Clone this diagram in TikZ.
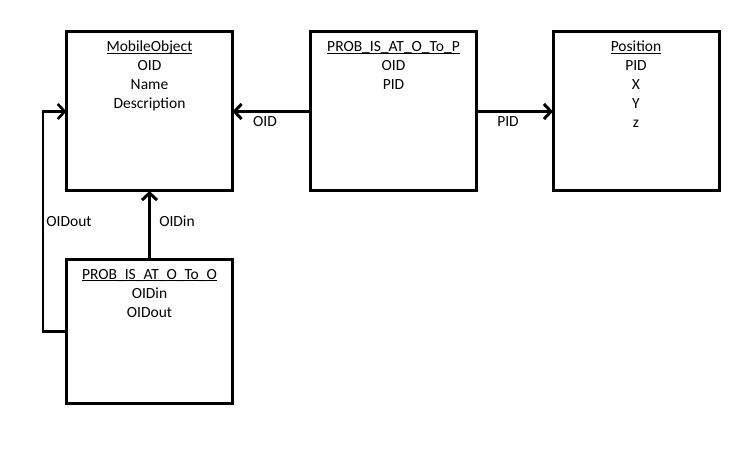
\documentclass[tikz,border=0pt]{standalone}
\usepackage{fontspec}
\setmainfont{Carlito}
\usetikzlibrary{arrows.meta}
\newcommand\ulbox[1]{\underline{\smash{#1}}}
\tikzset{
  entity/.style={draw=black, line width=3bp, minimum width=166bp, inner sep=0pt, outer sep=0pt},
  fields/.style={anchor=north, inner sep=0pt, align=center, font=\fontsize{15.5bp}{19bp}\selectfont},
  lbl/.style={inner sep=0pt, font=\fontsize{15.5bp}{19bp}\selectfont},
  arr/.style={draw=black, line width=3bp, -{Straight Barb[length=7bp,width=15bp]}},
  link/.style={draw=black, line width=2.6bp, -{Straight Barb[length=7bp,width=15bp]}}
}
\begin{document}
\begin{tikzpicture}[x=1bp,y=-1bp]
\useasboundingbox[fill=white] (0,0) rectangle (756,454);
% boxes
\node[entity, minimum height=159bp] (mo) at (149.5,111.5) {};
\node[entity, minimum height=159bp] (pp) at (393.5,111.5) {};
\node[entity, minimum height=159bp] (pos) at (636,111.5) {};
\node[entity, minimum height=143bp] (oo) at (149.5,331.5) {};
% contents
\node[fields] (motext) at (149.5,51.5) {\ulbox{MobileObject}\\OID\\Name\\Description};
\node[fields] (pptext) at (393.5,51.5) {\ulbox{PROB\_IS\_AT\_O\_To\_P}\\OID\\PID};
\node[fields] (postext) at (636,51.5) {\ulbox{Position}\\PID\\X\\Y\\z};
\node[fields] (ootext) at (149.5,279) {\ulbox{PROB\_IS\_AT\_O\_To\_O}\\OIDin\\OIDout};
% connectors
\coordinate (bend) at (43,0);
\draw[arr] (pp.west) -- (mo.east);
\draw[arr] (pp.east) -- (pos.west);
\draw[arr] (oo.north) -- (mo.south);
\draw[link] (oo.west) -- (oo.west -| bend) |- (mo.west);
% labels
\node[lbl] (l1) at (265,122) {OID};
\node[lbl] (l2) at (508,122) {PID};
\node[lbl] (l3) at (177,221) {OIDin};
\node[lbl] (l4) at (69,222) {OIDout};
\end{tikzpicture}
\end{document}
